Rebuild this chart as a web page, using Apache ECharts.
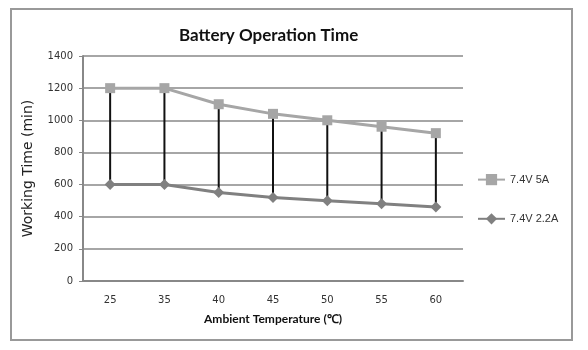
<!DOCTYPE html>
<html>
	<head>
		<meta charset="UTF-8" />
		<script src="https://cdn.jsdelivr.net/npm/echarts@6/dist/echarts.min.js"></script>
		<title>Battery Operation Time</title>
		<style>
			body {
				margin: 0;
				background-color: #fff;
			}
			#chart {
				width: 588px;
				height: 350px;
			}
		</style>
	</head>
	<body>
		<div id="chart"></div>
		<script>
			// data
			var temps = ['25', '35', '40', '45', '50', '55', '60']
			var time5A = [1200, 1200, 1100, 1040, 1000, 960, 920]
			var time22A = [600, 600, 550, 520, 500, 480, 460]
			var seriesNames = ['7.4V 5A', '7.4V 2.2A']

			// black high-low lines: invisible base + black gap
			var gap = time5A.map(function (v, i) {
				return v - time22A[i]
			})

			var myChart = echarts.init(document.getElementById('chart'))
			var option = {
				animation: false,
				graphic: [
					{
						type: 'rect',
						shape: { x: 11, y: 9, width: 561, height: 331 },
						style: { fill: 'none', stroke: '#999', lineWidth: 2 },
					},
				],
				title: {
					text: 'Battery Operation Time',
					left: 174,
					top: 22,
					textStyle: {
						fontFamily: 'Lato',
						fontWeight: 'bold',
						fontSize: 17,
						color: '#111',
					},
				},
				legend: {
					orient: 'vertical',
					left: 472,
					top: 169,
					itemGap: 28,
					itemWidth: 27,
					itemHeight: 14,
					data: seriesNames,
					textStyle: { fontFamily: 'Liberation Sans', fontSize: 11, color: '#333' },
				},
				grid: { left: 83, right: 125, top: 56, bottom: 69 },
				xAxis: {
					type: 'category',
					data: temps,
					name: 'Ambient Temperature (℃)',
					nameLocation: 'middle',
					nameGap: 32,
					nameTextStyle: {
						fontFamily: 'Lato',
						fontWeight: 'bold',
						fontSize: 12,
						color: '#111',
					},
					axisLine: { lineStyle: { color: '#888', width: 2 } },
					axisTick: { show: false },
					axisLabel: { fontFamily: 'DejaVu Sans', fontSize: 10, color: '#333', margin: 14 },
				},
				yAxis: {
					type: 'value',
					min: 0,
					max: 1400,
					interval: 200,
					name: 'Working Time (min)',
					nameLocation: 'middle',
					nameGap: 48,
					nameTextStyle: { fontFamily: 'DejaVu Sans', fontSize: 14, color: '#222' },
					axisLine: { show: true, lineStyle: { color: '#888', width: 2 } },
					axisTick: { show: true, length: 4, lineStyle: { color: '#888' } },
					axisLabel: {
						fontFamily: 'DejaVu Sans',
						fontSize: 10,
						color: '#333',
						margin: 10,
						formatter: function (v) {
							return String(v)
						},
					},
					splitLine: { lineStyle: { color: '#888', width: 1.5 } },
				},
				series: [
					{
						name: 'base',
						type: 'bar',
						stack: 'hl',
						data: time22A,
						barWidth: 2,
						itemStyle: { color: 'transparent' },
						silent: true,
					},
					{
						name: 'hilo',
						type: 'bar',
						stack: 'hl',
						data: gap,
						barWidth: 2,
						itemStyle: { color: '#111' },
						silent: true,
					},
					{
						name: seriesNames[0],
						type: 'line',
						data: time5A,
						symbol: 'rect',
						symbolSize: 10,
						lineStyle: { color: '#a6a6a6', width: 3 },
						itemStyle: { color: '#a6a6a6' },
						z: 3,
					},
					{
						name: seriesNames[1],
						type: 'line',
						data: time22A,
						symbol: 'diamond',
						symbolSize: 11,
						lineStyle: { color: '#808080', width: 3 },
						itemStyle: { color: '#808080' },
						z: 3,
					},
				],
			}
			myChart.setOption(option)
		</script>
	</body>
</html>
